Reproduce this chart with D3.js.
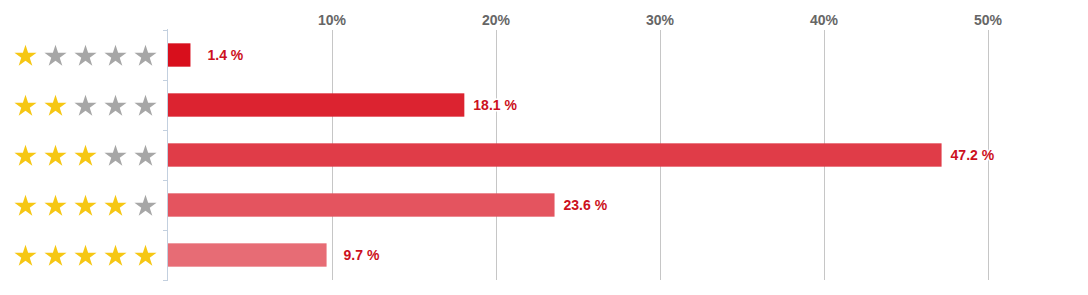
<!DOCTYPE html>
<html>
<head>
<meta charset="utf-8">
<script src="https://cdn.jsdelivr.net/npm/d3@7"></script>
<style>
  html, body { margin: 0; padding: 0; background: #fff; }
  svg { display: block; font-family: Arial, "Liberation Sans", sans-serif; }
</style>
</head>
<body>
<svg id="chart" width="1088" height="295"></svg>
<script>
const ratings = [1, 2, 3, 4, 5];
const shares = [1.4, 18.1, 47.2, 23.6, 9.7];
const tickValues = [10, 20, 30, 40, 50];
const barColors = ["#d80f1c", "#dc2330", "#e03c48", "#e4545f", "#e76c75"];

const svg = d3.select("#chart");
const x = d3.scaleLinear().domain([0, 50]).range([167.5, 987.5]);
const y = d3.scaleBand().domain(ratings).range([30, 280]).paddingInner(0.533).paddingOuter(0.2665);
const yAxisBand = d3.scaleBand().domain(ratings).range([30, 280]);

// gridlines + top tick labels
const xAxis = d3.axisTop(x).tickValues(tickValues).tickSize(0).tickFormat(d => d + "%");
const gx = svg.append("g").attr("transform", "translate(0,25)").call(xAxis);
gx.select(".domain").remove();
gx.selectAll("text")
  .attr("dy", 0).attr("y", 0)
  .attr("font-size", 14).attr("font-weight", "bold").attr("fill", "#666")
  .attr("font-family", "Arial, 'Liberation Sans', sans-serif");

svg.append("g").selectAll("line").data(tickValues).join("line")
  .attr("x1", d => Math.round(x(d)) + 0.5).attr("x2", d => Math.round(x(d)) + 0.5)
  .attr("y1", 30).attr("y2", 280)
  .attr("stroke", "#c6c6c6").attr("stroke-width", 1);

// left axis with ticks
const yAxis = d3.axisLeft(yAxisBand).tickSize(0).tickFormat("");
const gy = svg.append("g").attr("transform", "translate(167.5,0)").call(yAxis);
gy.select(".domain").attr("stroke", "#c3d0df").attr("d", "M0,29V281");
svg.append("g").selectAll("line").data(ratings.map(r => yAxisBand(r)).concat([280])).join("line")
  .attr("x1", 163).attr("x2", 167.5)
  .attr("y1", d => Math.round(d) + 0.5).attr("y2", d => Math.round(d) + 0.5)
  .attr("stroke", "#c3d0df");

// bars
svg.append("g").selectAll("rect").data(ratings).join("rect")
  .attr("x", x(0) + 0.5)
  .attr("y", d => y(d))
  .attr("width", (d, i) => x(shares[i]) - x(0) - 0.5)
  .attr("height", y.bandwidth())
  .attr("fill", (d, i) => barColors[i]);

// value labels
svg.append("g").selectAll("text").data(ratings).join("text")
  .attr("x", (d, i) => x(shares[i]) + (shares[i] < 10 ? 17 : 9))
  .attr("y", d => y(d) + y.bandwidth() / 2 + 5)
  .attr("font-size", 14).attr("font-weight", "bold")
  .attr("fill", "#cc1020")
  .attr("stroke", "#fff").attr("stroke-width", 3).attr("paint-order", "stroke")
  .attr("stroke-linejoin", "round")
  .text((d, i) => shares[i].toFixed(1) + " %");

// star labels
const star = d3.symbol().type(d3.symbolStar).size(152);
const starG = svg.append("g");
ratings.forEach(r => {
  const cy = yAxisBand(r) + yAxisBand.bandwidth() / 2 + 1.3;
  d3.range(5).forEach(k => {
    starG.append("path")
      .attr("d", star())
      .attr("transform", `translate(${25.5 + k * 30},${cy})`)
      .attr("fill", k < r ? "#f6c714" : "#a7a7a7");
  });
});
</script>
</body>
</html>
